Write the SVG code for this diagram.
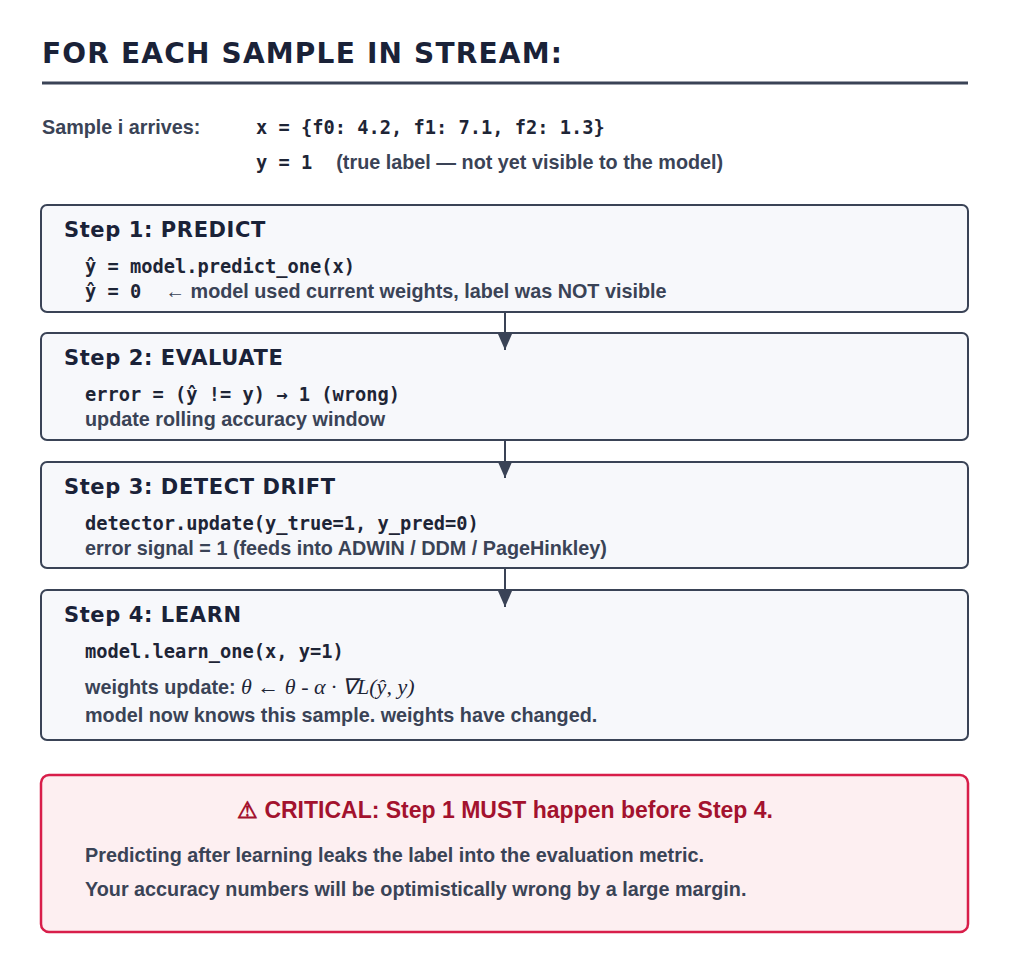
<svg xmlns="http://www.w3.org/2000/svg" width="1024" height="975" viewBox="0 0 1024 975">
<style>
.h{font-family:"DejaVu Sans",sans-serif;font-weight:bold;fill:#1a2238}
.t{font-family:"Liberation Sans",Arial,sans-serif;font-weight:bold;fill:#3a4356;font-size:19.8px}
.m{font-family:"DejaVu Sans Mono",monospace;font-weight:bold;fill:#1e2536;font-size:18.7px}
.math{font-family:"Liberation Serif",serif;font-style:italic;font-size:22px;fill:#1e2536}
.box{fill:#f7f8fb;stroke:#3a4356;stroke-width:2}
</style>
<defs><marker id="a" markerWidth="16" markerHeight="14" refX="16" refY="7" orient="auto" markerUnits="userSpaceOnUse"><path d="M0,0 L16,7 L0,14 Z" fill="#3a4356"/></marker></defs>
<rect width="1024" height="975" fill="#fff"/>
<text class="h" x="42" y="63" font-size="28" letter-spacing="1.2">FOR EACH SAMPLE IN STREAM:</text>
<line x1="42" y1="83" x2="968" y2="83" stroke="#3a4356" stroke-width="3"/>
<text class="t" x="42" y="134" font-size="17.5">Sample i arrives:</text>
<text class="m" x="256" y="134">x = {f0: 4.2, f1: 7.1, f2: 1.3}</text>
<text x="256" y="169"><tspan class="m">y = 1</tspan><tspan class="t" dx="24">(true label — not yet visible to the model)</tspan></text>
<g id="step1"><rect class="box" x="41" y="205" width="927" height="107" rx="6"/>
<text class="h" x="64" y="237" font-size="21" letter-spacing="0.6">Step 1: PREDICT</text>
<text class="m" x="85" y="273">ŷ = model.predict_one(x)</text>
<text x="85" y="298"><tspan class="m">ŷ = 0</tspan><tspan class="t" dx="24">← model used current weights, label was NOT visible</tspan></text></g>
<g id="step2"><rect class="box" x="41" y="333" width="927" height="107" rx="6"/>
<text class="h" x="64" y="365" font-size="21" letter-spacing="0.6">Step 2: EVALUATE</text>
<text class="m" x="85" y="401">error = (ŷ != y) → 1 (wrong)</text>
<text class="t" x="85" y="426">update rolling accuracy window</text></g>
<g id="step3"><rect class="box" x="41" y="462" width="927" height="106" rx="6"/>
<text class="h" x="64" y="494" font-size="21" letter-spacing="0.6">Step 3: DETECT DRIFT</text>
<text class="m" x="85" y="530">detector.update(y_true=1, y_pred=0)</text>
<text class="t" x="85" y="555">error signal = 1 (feeds into ADWIN / DDM / PageHinkley)</text></g>
<g id="step4"><rect class="box" x="41" y="590" width="927" height="150" rx="6"/>
<text class="h" x="64" y="622" font-size="21" letter-spacing="0.6">Step 4: LEARN</text>
<text class="m" x="85" y="658">model.learn_one(x, y=1)</text>
<text x="85" y="694"><tspan class="t">weights update: </tspan><tspan class="math">θ ← θ - α · ∇L(ŷ, y)</tspan></text>
<text class="t" x="85" y="722">model now knows this sample. weights have changed.</text></g>
<g id="connectors" stroke="#3a4356" stroke-width="2">
<line x1="505" y1="313" x2="505" y2="350" marker-end="url(#a)"/>
<line x1="505" y1="441" x2="505" y2="478" marker-end="url(#a)"/>
<line x1="505" y1="569" x2="505" y2="607" marker-end="url(#a)"/>
</g>
<g id="critical"><rect x="41" y="775" width="927" height="157" rx="8" fill="#fdeff1" stroke="#d81e4a" stroke-width="2.5"/>
<text x="505" y="818" text-anchor="middle" font-family="Liberation Sans,Arial,sans-serif" font-weight="bold" font-size="23" fill="#a3122e">⚠ CRITICAL: Step 1 MUST happen before Step 4.</text>
<text class="t" x="85" y="862">Predicting after learning leaks the label into the evaluation metric.</text>
<text class="t" x="85" y="896">Your accuracy numbers will be optimistically wrong by a large margin.</text></g>
</svg>
